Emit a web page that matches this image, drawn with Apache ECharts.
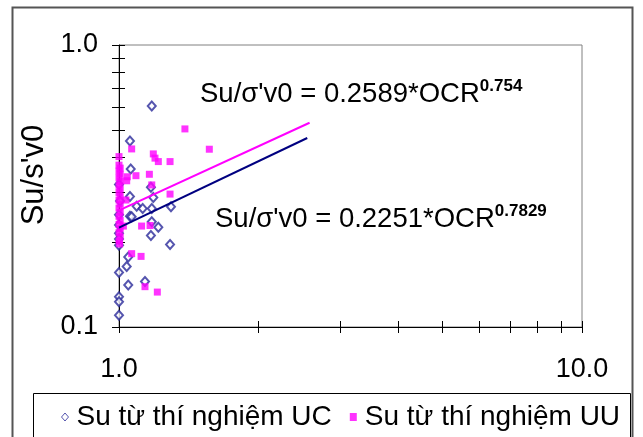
<!DOCTYPE html>
<html>
<head>
<meta charset="utf-8">
<script src="https://cdn.jsdelivr.net/npm/echarts@6/dist/echarts.min.js"></script>
<style>html,body{margin:0;padding:0;background:#fff}#c{width:643px;height:437px}</style>
</head>
<body>
<div id="c"></div>
<script>
// ---- data ----
const ucOCR = [1.177,1.056,1.060,1.172,1.056,1.186,1.092,1.125,1.177,1.295,1.056,1.065,1.177,1.216,1.172,1.289,1.000,1.047,1.039,1.000,1.047,1.138,1.000,1.000,1.000,1.000,1.000,1.000,1.000,1.005,1.000];
const ucSu  = [0.608,0.457,0.363,0.313,0.290,0.288,0.268,0.263,0.263,0.267,0.247,0.246,0.236,0.226,0.211,0.196,0.195,0.177,0.164,0.156,0.141,0.145,0.128,0.123,0.110,0.250,0.230,0.215,0.205,0.280,0.320];
const uuOCR = [1.388,1.567,1.000,1.065,1.186,1.196,1.216,1.289,1.042,1.039,1.088,1.163,1.177,1.289,1.035,1.119,1.167,1.022,1.065,1.116,1.138,1.210,
               1.000,1.006,1.000,1.006,1.000,1.006,1.000,1.006,1.000,1.006,1.000,1.006,1.000,1.006,1.000,1.006,1.000,1.006,1.000,1.006,1.000,1.003];
const uuSu  = [0.504,0.427,0.402,0.428,0.411,0.397,0.386,0.386,0.341,0.330,0.344,0.348,0.319,0.296,0.282,0.228,0.229,0.228,0.182,0.178,0.139,0.133,
               0.375,0.366,0.357,0.348,0.338,0.328,0.318,0.309,0.300,0.291,0.282,0.273,0.264,0.255,0.247,0.239,0.231,0.223,0.216,0.209,0.202,0.197];
const ucTrendOCR = [1, 2.55];
const ucTrendSu  = [0.225, 0.468];
const uuTrendOCR = [1, 2.58];
const uuTrendSu  = [0.259, 0.530];
const xTickValues  = [1,2,3,4,5,6,7,8,9,10];
const xLabelValues = [1,10];
const yTickValues  = [0.1,0.2,0.3,0.4,0.5,0.6,0.7,0.8,0.9,1.0];
const yLabelValues = [0.1,1.0];
const seriesNames = ['Su từ thí nghiệm UC','Su từ thí nghiệm UU'];
const eqUU = ['Su/σ\'v0 = 0.2589*OCR', '0.754'];
const eqUC = ['Su/σ\'v0 = 0.2251*OCR', '0.7829'];
const yName = "Su/s'v0";

const zip = (a,b) => a.map((v,i)=>[v,b[i]]);
const FONT = 'Liberation Sans, Arial, sans-serif';
const chart = echarts.init(document.getElementById('c'), null, {renderer:'canvas'});

const baseX = {type:'log', logBase:10, min:1, max:10, gridIndex:0, position:'bottom',
  axisLine:{show:true, lineStyle:{color:'#000', width:1}}, splitLine:{show:false}, minorTick:{show:false}};
const baseY = {type:'log', logBase:10, min:0.1, max:1, gridIndex:0, position:'left',
  axisLine:{show:true, lineStyle:{color:'#000', width:1}}, splitLine:{show:false}, minorTick:{show:false}};

const eqRich = {a:{fontSize:27.5, fontFamily:FONT, color:'#000', lineHeight:32},
                b:{fontSize:17, fontWeight:'bold', fontFamily:FONT, color:'#000', lineHeight:14, verticalAlign:'top'}};

chart.setOption({
  animation:false,
  backgroundColor:'#fff',
  grid:{left:119, right:61, top:45, bottom:110, show:true, borderColor:'#808080', borderWidth:1, backgroundColor:'#fff'},
  xAxis:[
    Object.assign({}, baseX, {
      axisTick:{show:true, inside:false, length:6, lineStyle:{color:'#000'}, customValues:xTickValues},
      axisLabel:{show:true, margin:29, fontSize:27, fontFamily:FONT, color:'#000', customValues:xLabelValues,
        formatter:v=>Number(v).toFixed(1)}
    }),
    Object.assign({}, baseX, {
      axisLine:{show:false},
      axisTick:{show:true, inside:true, length:6, lineStyle:{color:'#000'}, customValues:xTickValues},
      axisLabel:{show:false}
    })
  ],
  yAxis:[
    Object.assign({}, baseY, {
      name:yName, nameLocation:'middle', nameRotate:90, nameGap:58,
      nameTextStyle:{fontSize:31, fontFamily:FONT, color:'#000', padding:[0,0,0,22]},
      axisTick:{show:true, inside:false, length:7, lineStyle:{color:'#000'}, customValues:yTickValues},
      axisLabel:{show:true, margin:21, fontSize:27, fontFamily:FONT, color:'#000', customValues:yLabelValues,
        formatter:v=>Number(v).toFixed(1)}
    }),
    Object.assign({}, baseY, {
      axisLine:{show:false},
      axisTick:{show:true, inside:true, length:6, lineStyle:{color:'#000'}, customValues:yTickValues},
      axisLabel:{show:false}
    })
  ],
  legend:{
    left:56, top:398, itemWidth:7, itemHeight:8, itemGap:18,
    textStyle:{fontSize:28, fontFamily:FONT, color:'#000', padding:[0,0,0,3]},
    data:[
      {name:seriesNames[0], icon:'diamond', itemStyle:{color:'#fff', borderColor:'#2a2a9a', borderWidth:1}},
      {name:seriesNames[1], icon:'rect', itemStyle:{color:'#ff00ff'}}
    ]
  },
  series:[
    {name:seriesNames[0], type:'scatter', symbol:'emptyDiamond', symbolSize:[8,9],
      itemStyle:{color:'#2a2a9a', borderWidth:1.2}, data:zip(ucOCR,ucSu), z:2},
    {name:seriesNames[1], type:'scatter', symbol:'rect', symbolSize:7,
      itemStyle:{color:'#ff00ff'}, data:zip(uuOCR,uuSu), z:3},
    {name:'uuTrend', type:'line', data:zip(uuTrendOCR,uuTrendSu), symbol:'none',
      lineStyle:{color:'#ff00ff', width:2}, z:4},
    {name:'ucTrend', type:'line', data:zip(ucTrendOCR,ucTrendSu), symbol:'none',
      lineStyle:{color:'#000080', width:2}, z:4}
  ],
  graphic:[
    {type:'rect', silent:true, z:-1, shape:{x:12.5, y:7.5, width:620, height:445},
      style:{fill:'none', stroke:'#555', lineWidth:2}},
    {type:'rect', silent:true, shape:{x:33.5, y:393.5, width:597, height:60},
      style:{fill:'none', stroke:'#000', lineWidth:1}},
    {type:'text', left:200, top:78, silent:true, style:{text:'{a|'+eqUU[0]+'}{b|'+eqUU[1]+'}', rich:eqRich}},
    {type:'text', left:215, top:203, silent:true, style:{text:'{a|'+eqUC[0]+'}{b|'+eqUC[1]+'}', rich:eqRich}}
  ]
});
</script>
</body>
</html>
